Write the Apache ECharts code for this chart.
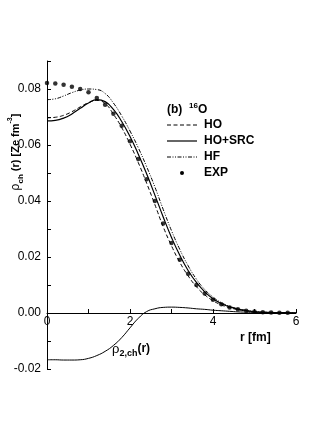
<!DOCTYPE html>
<html>
<head>
<meta charset="utf-8">
<script src="https://cdn.jsdelivr.net/npm/echarts@6/dist/echarts.min.js"></script>
<style>
html,body{margin:0;padding:0;background:#fff;}
#c{width:327px;height:436px;}
</style>
</head>
<body>
<div id="c"></div>
<script>
const rGrid = [0,0.2,0.4,0.6,0.8,1.0,1.2,1.4,1.6,1.8,2.0,2.2,2.4,2.6,2.8,3.0,3.2,3.4,3.6,3.8,4.0,4.2,4.4,4.6,4.8,5.0,5.2,5.4,5.6,5.8,6.0];
const hoVals = [0.0697,0.0699,0.0706,0.0719,0.0736,0.0751,0.0759,0.0748,0.0710,0.0662,0.0603,0.0537,0.0464,0.0387,0.0308,0.0240,0.0181,0.0133,0.0094,0.0065,0.0044,0.0029,0.0019,0.0012,0.0007,0.0004,0.0002,0.0001,0.0001,0,0];
const hoSrcVals = [0.0686,0.0688,0.0696,0.0711,0.0731,0.0750,0.0762,0.0755,0.0727,0.0684,0.0630,0.0567,0.0497,0.0421,0.0343,0.0270,0.0206,0.0152,0.0109,0.0076,0.0051,0.0034,0.0022,0.0014,0.0009,0.0005,0.0003,0.0002,0.0001,0.0001,0];
const hfVals = [0.0762,0.0765,0.0775,0.0787,0.0796,0.0800,0.0798,0.0784,0.0750,0.0704,0.0650,0.0590,0.0523,0.0450,0.0370,0.0294,0.0227,0.0169,0.0121,0.0084,0.0057,0.0037,0.0024,0.0015,0.0009,0.0005,0.0003,0.0002,0.0001,0,0];
const rho2Vals = [-0.0167,-0.0167,-0.0168,-0.0168,-0.0167,-0.0162,-0.0152,-0.0137,-0.0116,-0.0088,-0.0053,-0.0019,0.0005,0.0015,0.0020,0.0021,0.0020,0.0018,0.0015,0.0013,0.0010,0.0008,0.0006,0.0004,0.0003,0.0002,0.0001,0.0001,0,0,0];
const expR = [0,0.2,0.4,0.6,0.8,1.0,1.2,1.4,1.6,1.8,2.0,2.2,2.4,2.6,2.8,3.0,3.2,3.4,3.6,3.8,4.0,4.2,4.4,4.6,4.8,5.0,5.2,5.4,5.6,5.8];
const expVals = [0.0821,0.0820,0.0815,0.0808,0.0800,0.0788,0.0768,0.0744,0.0712,0.0669,0.0613,0.0550,0.0478,0.0400,0.0320,0.0250,0.0190,0.0140,0.0100,0.0070,0.0047,0.0031,0.0020,0.0013,0.0008,0.0005,0.0003,0.0002,0.0001,0.0001];
const xTicks = [0,2,4,6];
const yTicks = [-0.02,0.00,0.02,0.04,0.06,0.08];

const pair = (xs, ys) => xs.map((x,i)=>[x, ys[i]]);
const FONT = '"Liberation Sans", Arial, sans-serif';
const Y_MIN = -0.02, Y_MAX = 0.09, GRID_TOP = 61, GRID_BOTTOM = 67, H = 436;
// shift the x axis up so it sits on y = 0
const plotH = H - GRID_TOP - GRID_BOTTOM;
const zeroOffset = -plotH * (0 - Y_MIN) / (Y_MAX - Y_MIN);

const chart = echarts.init(document.getElementById('c'), null, {renderer:'canvas'});
const lineBase = {type:'line', smooth:true, showSymbol:false, symbol:'none', silent:true};
chart.setOption({
  animation:false,
  backgroundColor:'#fff',
  grid:{left:47, right:31, top:GRID_TOP, bottom:GRID_BOTTOM, containLabel:false},
  xAxis:{
    type:'value', min:0, max:6, interval:1, offset:zeroOffset,
    axisLine:{show:true, onZero:false, lineStyle:{color:'#000', width:1}},
    axisTick:{show:true, inside:true, length:4, lineStyle:{color:'#000'}},
    axisLabel:{color:'#000', fontFamily:FONT, fontSize:12, margin:3,
      formatter:v => xTicks.indexOf(v) >= 0 ? String(v) : ''},
    splitLine:{show:false}
  },
  yAxis:{
    type:'value', min:Y_MIN, max:Y_MAX, interval:0.01,
    axisLine:{show:true, onZero:false, lineStyle:{color:'#000', width:1}},
    axisTick:{show:true, inside:true, length:4, lineStyle:{color:'#000'}},
    axisLabel:{color:'#000', fontFamily:FONT, fontSize:12, margin:6,
      formatter:v => { const k = Math.round(v*100); return yTicks.some(t=>Math.round(t*100)===k) ? (k/100).toFixed(2) : ''; }},
    splitLine:{show:false}
  },
  series:[
    Object.assign({}, lineBase, {name:'HO', data:pair(rGrid, hoVals), lineStyle:{color:'#000', width:1, type:[4,2.5]}}),
    Object.assign({}, lineBase, {name:'HO+SRC', data:pair(rGrid, hoSrcVals), lineStyle:{color:'#000', width:1.2}}),
    Object.assign({}, lineBase, {name:'HF', data:pair(rGrid, hfVals), lineStyle:{color:'#000', width:1, type:[4,1.5,1,1.5,1,1.5]}}),
    Object.assign({}, lineBase, {name:'rho2ch', data:pair(rGrid, rho2Vals), lineStyle:{color:'#000', width:1}}),
    {type:'scatter', name:'EXP', data:pair(expR, expVals), symbol:'circle', symbolSize:4.5, itemStyle:{color:'#000'}, silent:true}
  ],
  graphic:[
    {type:'text', x:16, y:152, rotation:Math.PI/2, style:{
      text:'{g|ρ}{s|ch}{b| (r) [Ze fm}{p|-3}{b|]}',
      align:'center', verticalAlign:'middle', fill:'#000',
      rich:{
        g:{fontFamily:FONT, fontSize:12, lineHeight:18, fill:'#000'},
        s:{fontFamily:FONT, fontSize:8, fontWeight:'bold', lineHeight:18, verticalAlign:'bottom', fill:'#000', padding:[6,0,0,0]},
        b:{fontFamily:FONT, fontSize:11, fontWeight:'bold', lineHeight:18, fill:'#000'},
        p:{fontFamily:FONT, fontSize:7, fontWeight:'bold', lineHeight:18, verticalAlign:'top', fill:'#000', padding:[0,0,6,0]}
      }}},
    {type:'text', x:240, y:338, style:{text:'r [fm]', fontFamily:FONT, fontSize:12, fontWeight:'bold', fill:'#000', verticalAlign:'middle'}},
    {type:'text', x:112, y:349, style:{
      text:'{g|ρ}{s|2,ch}{b|(r)}', verticalAlign:'middle', fill:'#000',
      rich:{
        g:{fontFamily:FONT, fontSize:13, lineHeight:18, fill:'#000'},
        s:{fontFamily:FONT, fontSize:9, fontWeight:'bold', lineHeight:18, verticalAlign:'bottom', fill:'#000', padding:[6,0,0,0]},
        b:{fontFamily:FONT, fontSize:12, fontWeight:'bold', lineHeight:18, fill:'#000'}
      }}},
    {type:'text', x:167, y:110, style:{
      text:'{b|(b)  }{p|16}{b|O}', verticalAlign:'middle', fill:'#000',
      rich:{
        b:{fontFamily:FONT, fontSize:12, fontWeight:'bold', lineHeight:16, fill:'#000'},
        p:{fontFamily:FONT, fontSize:8, fontWeight:'bold', lineHeight:16, verticalAlign:'top', fill:'#000', padding:[0,0,5,0]}
      }}},
    {type:'line', shape:{x1:167, y1:125, x2:197, y2:125}, style:{stroke:'#000', lineWidth:1, lineDash:[4,2.5]}},
    {type:'text', x:204, y:125, style:{text:'HO', fontFamily:FONT, fontSize:12, fontWeight:'bold', fill:'#000', verticalAlign:'middle'}},
    {type:'line', shape:{x1:167, y1:141, x2:197, y2:141}, style:{stroke:'#000', lineWidth:1.2}},
    {type:'text', x:204, y:141, style:{text:'HO+SRC', fontFamily:FONT, fontSize:12, fontWeight:'bold', fill:'#000', verticalAlign:'middle'}},
    {type:'line', shape:{x1:167, y1:157, x2:197, y2:157}, style:{stroke:'#000', lineWidth:1, lineDash:[4,1.5,1,1.5,1,1.5]}},
    {type:'text', x:204, y:157, style:{text:'HF', fontFamily:FONT, fontSize:12, fontWeight:'bold', fill:'#000', verticalAlign:'middle'}},
    {type:'circle', shape:{cx:182, cy:173, r:2}, style:{fill:'#000'}},
    {type:'text', x:204, y:173, style:{text:'EXP', fontFamily:FONT, fontSize:12, fontWeight:'bold', fill:'#000', verticalAlign:'middle'}}
  ]
});
</script>
</body>
</html>
